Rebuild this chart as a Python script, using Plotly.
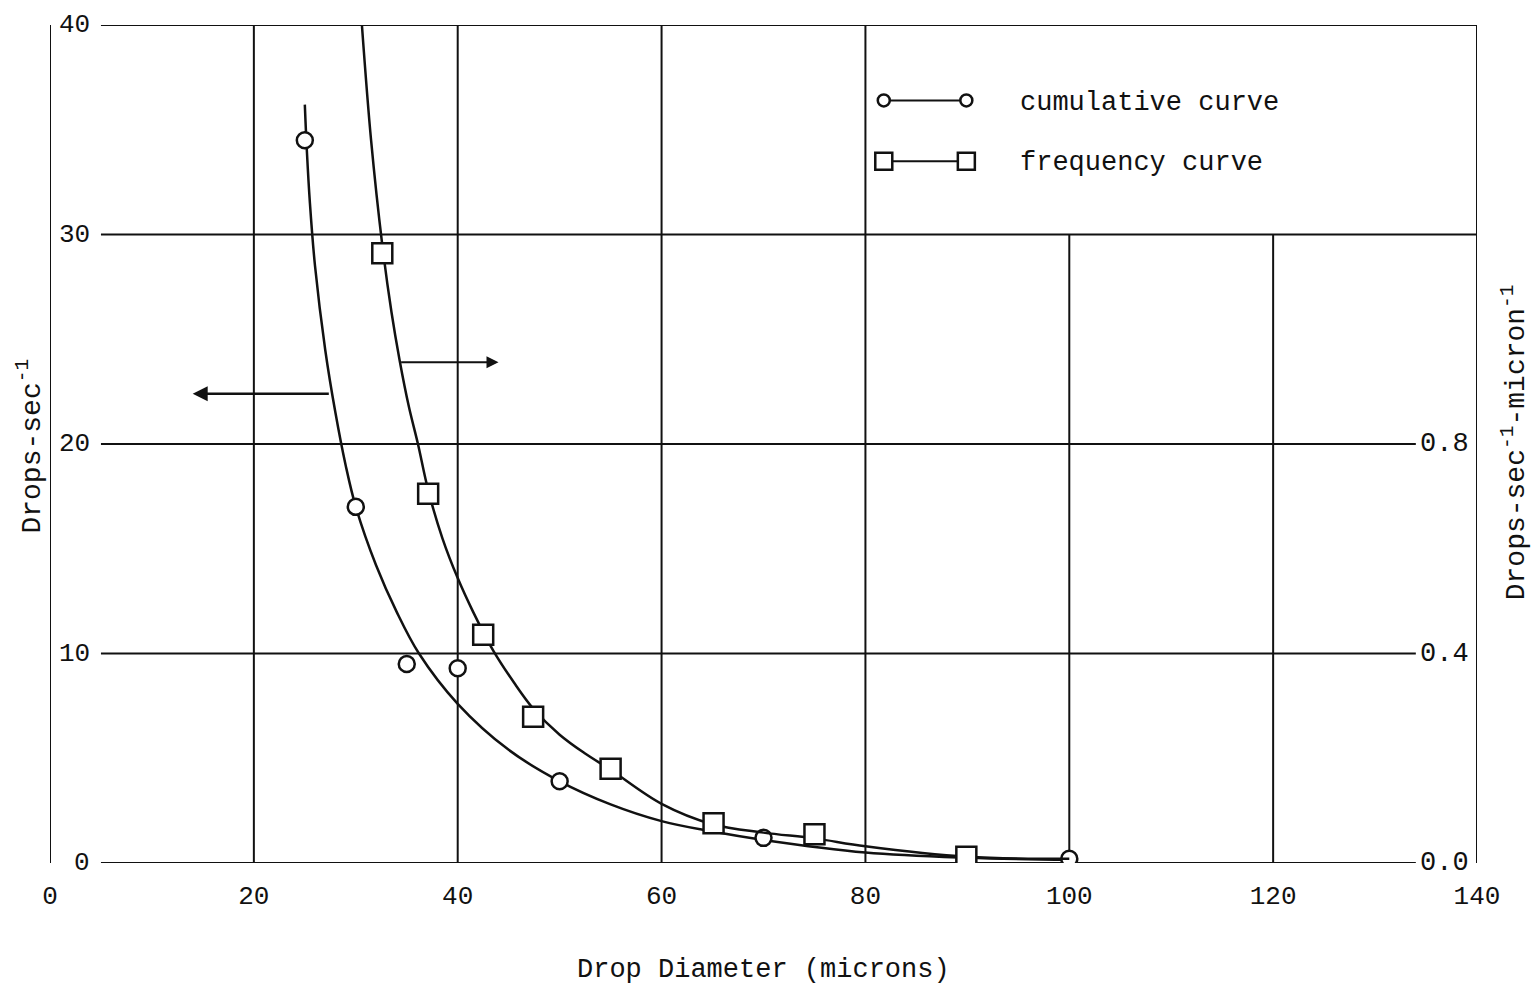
import plotly.graph_objects as go

# ---------------- data ----------------
# measured points, cumulative curve (left axis, drops/sec)
cum_x = [25, 30, 35, 40, 50, 70, 100]
cum_y = [34.5, 17.0, 9.5, 9.3, 3.9, 1.2, 0.2]
# smooth cumulative curve as drawn
cum_curve_x = [25.0, 25.2, 25.5, 26.0, 27.0, 28.0, 29.0, 30.0, 32.0, 34.0, 36.2, 40.0, 45.0, 50.0, 55.0, 60.0, 65.0, 70.0, 80.0, 90.0, 100.0]
cum_curve_y = [36.2, 34.0, 31.5, 28.5, 24.5, 21.5, 19.0, 17.0, 14.2, 12.0, 10.0, 7.6, 5.4, 3.9, 2.8, 2.0, 1.5, 1.1, 0.5, 0.25, 0.15]

# measured points, frequency curve (right axis, drops/sec/micron)
freq_x = [32.6, 37.1, 42.5, 47.4, 55.0, 65.1, 75.0, 89.9]
freq_y = [1.164, 0.705, 0.436, 0.279, 0.180, 0.076, 0.055, 0.012]
# smooth frequency curve as drawn
freq_curve_x = [30.6, 31.5, 32.6, 33.5, 34.3, 35.2, 36.1, 37.1, 38.5, 40.0, 41.5, 43.5, 45.5, 47.4, 50.0, 52.5, 55.0, 60.0, 65.0, 70.0, 75.0, 80.0, 90.0, 100.0]
freq_curve_y = [1.60, 1.38, 1.18, 1.052, 0.96, 0.872, 0.80, 0.712, 0.62, 0.544, 0.48, 0.405, 0.345, 0.295, 0.245, 0.209, 0.178, 0.113, 0.074, 0.058, 0.047, 0.032, 0.012, 0.008]

x_ticks = [0, 20, 40, 60, 80, 100, 120, 140]
left_ticks = [0, 10, 20, 30, 40]
right_ticks = [0.0, 0.4, 0.8]
right_tick_pos = [0, 10, 20]  # same rows on left scale

x_title = "Drop Diameter (microns)"
left_title = "Drops-sec<sup>-1</sup>"
right_title = "Drops-sec<sup>-1</sup>-micron<sup>-1</sup>"
legend_labels = ["cumulative curve", "frequency curve"]

# ---------------- figure ----------------
FONT = "Liberation Mono, Courier New, monospace"
INK = "#111111"

fig = go.Figure()

# grid / frame as shapes (data coordinates)
shapes = []
def seg(x0, y0, x1, y1, w=2):
    shapes.append(dict(type="line", xref="x", yref="y", x0=x0, y0=y0, x1=x1, y1=y1,
                       line=dict(color=INK, width=w), layer="below"))

seg(0, 0, 0, 40.1)                  # left axis line
for gx in [20, 40, 60, 80]:
    seg(gx, 0, gx, 40)
for gx in [100, 120]:
    seg(gx, 0, gx, 30)
seg(140, -0.25, 140, 40)            # right border
for gy in [0, 10, 20]:
    seg(5, gy, 134, gy)
for gy in [30, 40]:
    seg(5, gy, 140, gy)

# smooth curves
fig.add_trace(go.Scatter(x=cum_curve_x, y=cum_curve_y, mode="lines",
                         line=dict(color=INK, width=2.5, shape="spline", smoothing=1.0),
                         showlegend=False, hoverinfo="skip"))
fig.add_trace(go.Scatter(x=freq_curve_x, y=freq_curve_y, mode="lines", yaxis="y2",
                         line=dict(color=INK, width=2.5, shape="spline", smoothing=1.0),
                         showlegend=False, hoverinfo="skip"))

# measured points
fig.add_trace(go.Scatter(x=cum_x, y=cum_y, mode="markers",
                         marker=dict(symbol="circle", size=16, color="white",
                                     line=dict(color=INK, width=2.5)),
                         showlegend=False))
fig.add_trace(go.Scatter(x=freq_x, y=freq_y, mode="markers", yaxis="y2",
                         marker=dict(symbol="square", size=20, color="white",
                                     line=dict(color=INK, width=2.5)),
                         showlegend=False))

# legend samples (drawn inside the chart)
leg_x = [81.8, 89.9]
fig.add_trace(go.Scatter(x=leg_x, y=[36.4, 36.4], mode="lines+markers",
                         line=dict(color=INK, width=2),
                         marker=dict(symbol="circle", size=12, color="white",
                                     line=dict(color=INK, width=2.5)),
                         showlegend=False))
fig.add_trace(go.Scatter(x=leg_x, y=[33.5, 33.5], mode="lines+markers",
                         line=dict(color=INK, width=2),
                         marker=dict(symbol="square", size=17, color="white",
                                     line=dict(color=INK, width=2.5)),
                         showlegend=False))

annotations = []
for lab, yy in zip(legend_labels, [36.3, 33.4]):
    annotations.append(dict(x=95.0, y=yy, xref="x", yref="y", text=lab, showarrow=False,
                            xanchor="left", yanchor="middle",
                            font=dict(family=FONT, size=27, color=INK)))

# left tick labels
for v in left_ticks:
    annotations.append(dict(x=4.1, y=v, xref="x", yref="y", text=str(v), showarrow=False,
                            xanchor="right", yanchor="middle",
                            font=dict(family=FONT, size=26, color=INK)))
# right tick labels
for v, p in zip(right_ticks, right_tick_pos):
    annotations.append(dict(x=139.4, y=p, xref="x", yref="y", text=f"{v:.1f}", showarrow=False,
                            xanchor="right", yanchor="middle",
                            font=dict(family=FONT, size=27, color=INK)))

# arrows
annotations.append(dict(x=14.0, y=22.4, ax=27.5, ay=22.4, xref="x", yref="y",
                        axref="x", ayref="y", text="", showarrow=True,
                        arrowhead=2, arrowsize=1.2, arrowwidth=2.5, arrowcolor=INK))
annotations.append(dict(x=44.0, y=23.9, ax=34.3, ay=23.9, xref="x", yref="y",
                        axref="x", ayref="y", text="", showarrow=True,
                        arrowhead=2, arrowsize=1.2, arrowwidth=2, arrowcolor=INK))

# axis titles
annotations.append(dict(x=0.5, y=-0.128, xref="paper", yref="paper", text=x_title,
                        showarrow=False, xanchor="center", yanchor="middle",
                        font=dict(family=FONT, size=27, color=INK)))
annotations.append(dict(x=-0.014, y=0.497, xref="paper", yref="paper", text=left_title,
                        showarrow=False, textangle=-90, xanchor="center", yanchor="middle",
                        font=dict(family=FONT, size=28, color=INK)))
annotations.append(dict(x=1.0266, y=0.502, xref="paper", yref="paper", text=right_title,
                        showarrow=False, textangle=-90, xanchor="center", yanchor="middle",
                        font=dict(family=FONT, size=28, color=INK)))

fig.update_layout(
    width=1532, height=989,
    margin=dict(l=50, r=55, t=25, b=126),
    paper_bgcolor="white", plot_bgcolor="white",
    shapes=shapes, annotations=annotations,
    xaxis=dict(range=[0, 140], tickvals=x_ticks, ticktext=[str(v) for v in x_ticks],
               showgrid=False, zeroline=False, showline=False, ticks="",
               ticklabelstandoff=14,
               tickfont=dict(family=FONT, size=26, color=INK)),
    yaxis=dict(range=[0, 40], showgrid=False, zeroline=False, showline=False,
               showticklabels=False, ticks=""),
    yaxis2=dict(range=[0, 1.6], overlaying="y", side="right", showgrid=False,
                zeroline=False, showline=False, showticklabels=False, ticks=""),
    showlegend=False,
)

fig.write_html("out.html")
